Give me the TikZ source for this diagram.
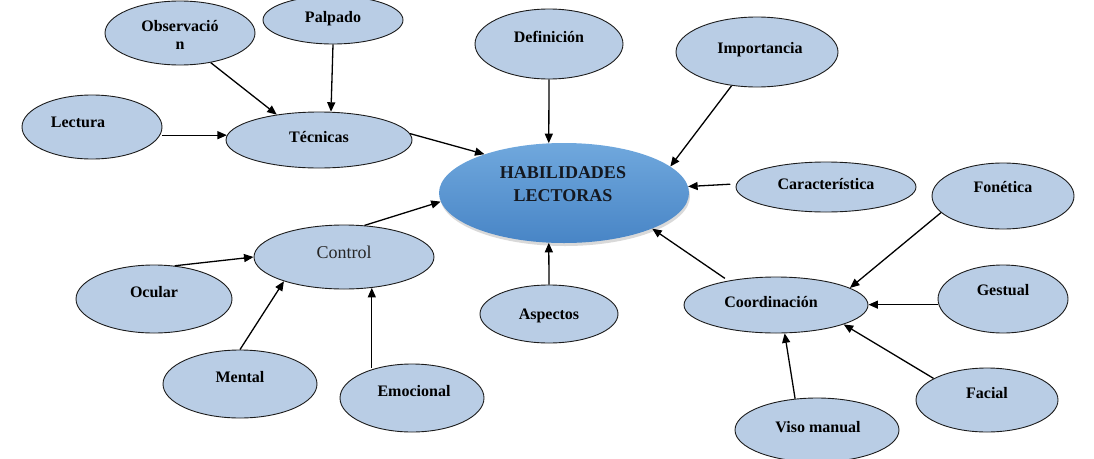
\documentclass[tikz,border=0pt]{standalone}
\usepackage{fontspec}
\setmainfont{Liberation Serif}
\usetikzlibrary{arrows.meta,shapes.geometric,shadows}
\definecolor{bubble}{HTML}{B9CDE5}
\definecolor{edgec}{HTML}{1C1C1C}
\definecolor{hubtop}{HTML}{70A8DD}
\definecolor{hubbot}{HTML}{4885C6}
\definecolor{hubtext}{HTML}{141820}
\newcommand\mv[3]{\raisebox{#2}[11pt][3pt]{\makebox[0pt]{\hspace*{#1}\hspace*{#1}#3}}}
\begin{document}
\begin{tikzpicture}[x=1pt,y=-1pt,
  sz/.style 2 args={minimum width=#1pt, minimum height=#2pt},
  bub/.style={ellipse, draw=edgec, line width=0.9pt, fill=bubble, inner sep=0pt,
    font=\bfseries\fontsize{16}{18}\selectfont},
  arr/.style={line width=1.3pt, -{Triangle[length=9.5pt,width=8pt]}},
]
\useasboundingbox (0,0) rectangle (1094,458);
\clip (0,0) rectangle (1094,458);

% nodes
\node[bub,sz={150}{64}] (obs) at (180,33) {\mv{0pt}{-4.3pt}{\begin{tabular}{@{}c@{}}Observació\\n\end{tabular}}};
\node[bub,sz={140}{48}] (pal) at (333,20) {\mv{0pt}{1.7pt}{Palpado}};
\node[bub,sz={140}{64}] (lec) at (92,127) {\mv{-14pt}{3.7pt}{Lectura}};
\node[bub,sz={186}{56}] (tec) at (319,140) {\mv{0pt}{1.7pt}{Técnicas}};
\node[bub,sz={148}{70}] (def) at (549,44) {\mv{0pt}{5.7pt}{Definición}};
\node[bub,sz={162}{70}] (imp) at (757,52) {\mv{3pt}{2.7pt}{Importancia}};
\node[ellipse, sz={250}{100}, inner sep=0pt, top color=hubtop, bottom color=hubbot,
  drop shadow={shadow xshift=1pt, shadow yshift=-3pt, fill=black, opacity=0.15},
  text=hubtext, font=\bfseries\fontsize{18}{23}\selectfont] (hab) at (564,193)
  {\mv{-1pt}{7pt}{\begin{tabular}{@{}c@{}}HABILIDADES\\LECTORAS\end{tabular}}};
\node[bub,sz={180}{50}] (car) at (826,187) {\mv{0pt}{1.7pt}{Característica}};
\node[bub,sz={142}{66}] (fon) at (1003,196) {\mv{0pt}{7.7pt}{Fonética}};
\node[bub,sz={130}{68}] (ges) at (1003,299) {\mv{0pt}{7.7pt}{Gestual}};
\node[bub,sz={184}{56}] (coo) at (776,305) {\mv{-5pt}{1.7pt}{Coordinación}};
\node[bub,sz={142}{64}] (fac) at (987,400) {\mv{0pt}{5.7pt}{Facial}};
\node[bub,sz={164}{64}] (vis) at (817,430) {\mv{1pt}{1.7pt}{Viso manual}};
\node[bub,sz={138}{58}] (asp) at (549,314) {\mv{0pt}{-1pt}{Aspectos}};
\node[bub,sz={180}{64}, font=\fontsize{18}{21}\selectfont, text=black!85] (con) at (344,257) {\mv{0pt}{3pt}{Control}};
\node[bub,sz={156}{68}] (ocu) at (154,299) {\mv{0pt}{5.7pt}{Ocular}};
\node[bub,sz={154}{68}] (men) at (240,384) {\mv{0pt}{5.7pt}{Mental}};
\node[bub,sz={144}{68}] (emo) at (412,398) {\mv{2pt}{5.7pt}{Emocional}};

% connectors
\draw[arr] (obs.-44) -- (tec.149);
\draw[arr] (pal.south) -- (tec.67);
\draw[arr] (tec.177 -| lec.east) -- (tec.177);
\draw[arr] (tec.4) -- (hab.154);
\draw[arr] (def.south) -- (hab.107);
\draw[arr] (imp.233) -- (hab.14);
\draw[arr, shorten <=6pt] (car.178) -- (hab.3);
\draw[arr, shorten <=4pt] (coo.153) -- (hab.-22);
\draw[arr] (asp.north) -- (hab.253);
\draw[arr] (con.57) -- (hab.184);
\draw[arr] (ocu.58) -- (con.180);
\draw[arr] (men.north) -- (con.202);
\draw[arr] (con.-48 |- emo.139) -- (con.-48);
\draw[arr] (fon.195) -- (coo.13);
\draw[arr] (ges.185) -- (ges.185 -| coo.east);
\draw[arr] (fac.158) -- (coo.-16);
\draw[arr] (vis.125) -- (coo.-73);
\end{tikzpicture}
\end{document}
